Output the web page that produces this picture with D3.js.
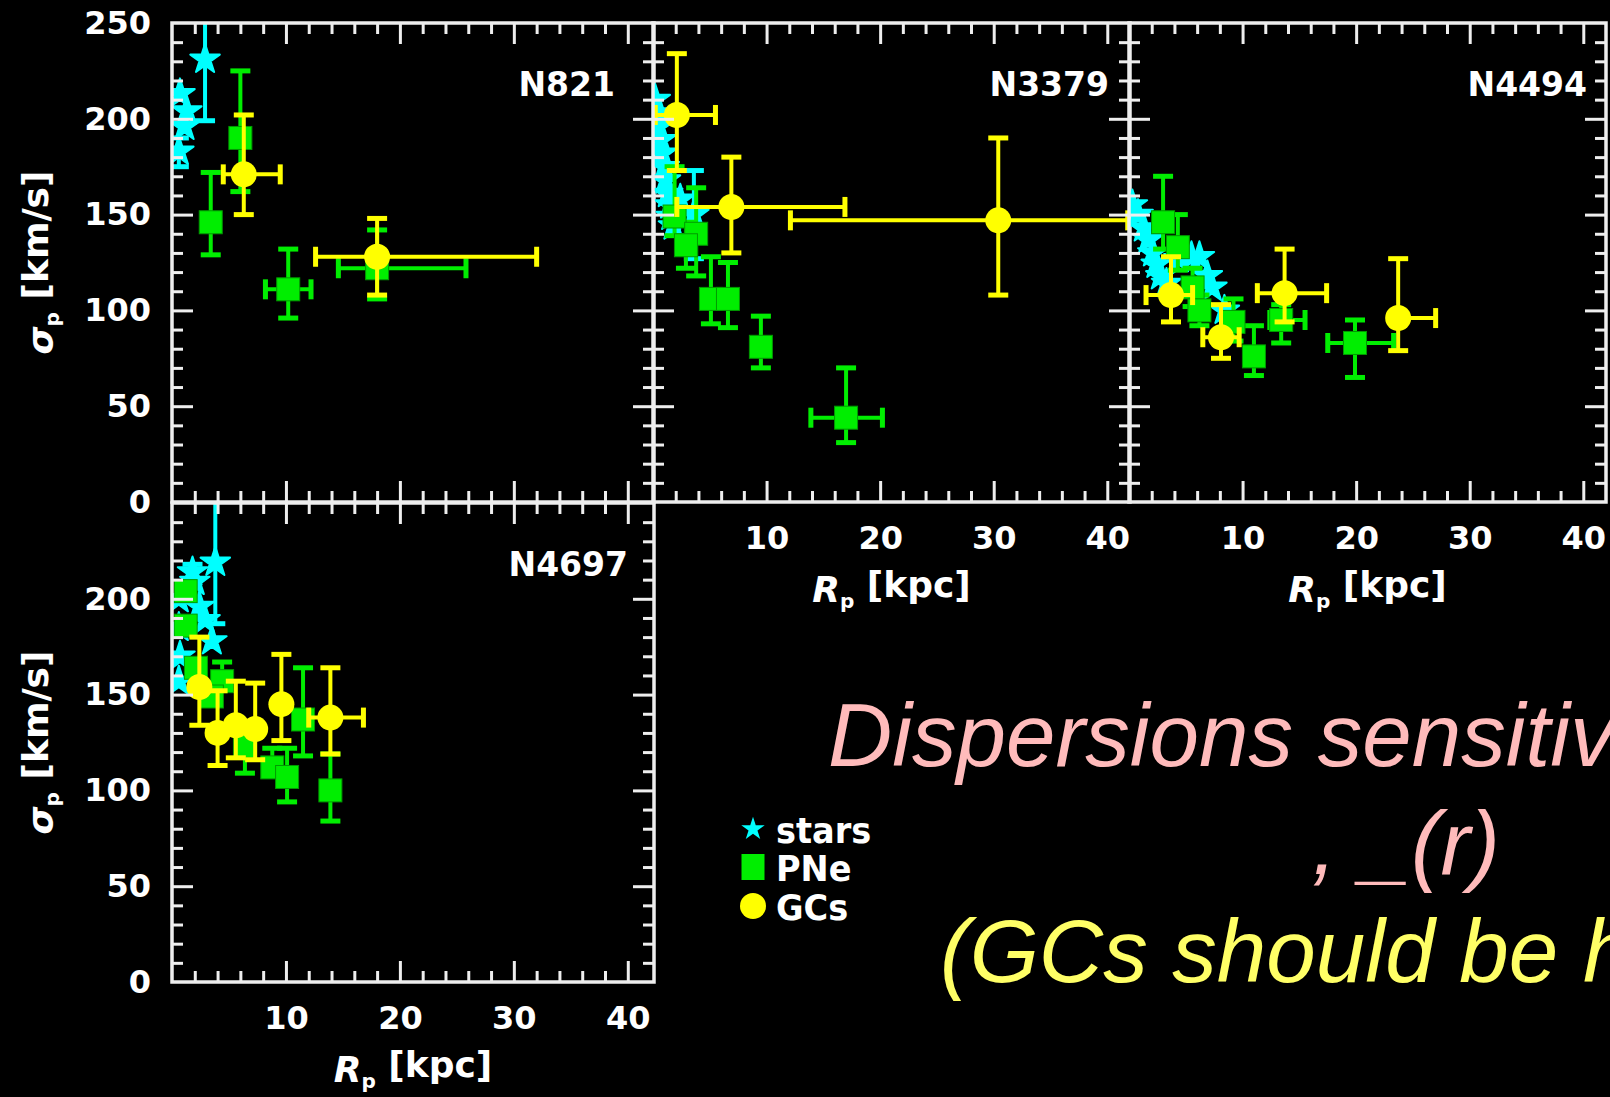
<!DOCTYPE html>
<html>
<head>
<meta charset="utf-8">
<script src="https://cdn.jsdelivr.net/npm/d3@7"></script>
<style>
body{margin:0;background:#000;}
svg{display:block;}
</style>
</head>
<body>
<script>
// rows: [Rp, sigma, sigma-, sigma+, Rp-, Rp+]  (0 = no error bar)
var n821Stars = [[0.7,213,0,0,0,0],[1.3,204,0,0,0,0],[1.1,196,0,0,0,0],[0.6,183,8,7,0,0],[2.9,231,32,30,0,0]];
var n821PNe = [[3.4,146,17,26,0,0],[6.0,190,28,35,0,0],[10.2,111,15,21,2.0,2.0],[18.0,122,16,20,3.4,7.8]];
var n821GCs = [[6.3,171,21,31,1.8,3.2],[18.0,128,20,20,5.4,14.0]];

var n3379Stars = [[0.2,210,0,0,0,0],[0.4,203,0,0,0,0],[0.5,196,0,0,0,0],[0.7,189,0,0,0,0],[0.8,182,0,0,0,0],
	[1.0,175,0,0,0,0],[1.1,168,0,0,0,0],[1.3,161,0,0,0,0],[1.5,155,0,0,0,0],[1.6,149,0,0,0,0],[1.8,144,0,0,0,0],
	[2.4,158,0,0,0,0],[3.6,150,23,23,0,0]];
var n3379PNe = [[1.9,149,10,26,0,0],[3.8,140,22,24,0,0],[2.9,134,12,12,0,0],[5.1,106,13,22,0,0],
	[6.6,106,15,19,0,0],[9.5,81,11,16,0,0],[17.0,44,13,26,3.1,3.2]];
var n3379GCs = [[2.1,202,29,32,1.9,3.4],[6.9,154,24,26,4.8,10.0],[30.4,147,39,43,18.3,11.4]];

var n4494Stars = [[0.3,155,0,0,0,0],[0.8,150,0,0,0,0],[1.3,143,0,0,0,0],[1.7,137,0,0,0,0],[2.1,130,0,0,0,0],
	[2.4,124,0,0,0,0],[2.8,118,0,0,0,0],[3.3,114,0,0,0,0],[4.4,127,0,0,0,0],[5.5,128,0,0,0,0],
	[6.2,128,0,0,0,0],[6.9,118,0,0,0,0],[7.3,112,0,0,0,0],[8.4,100,0,0,0,0]];
var n4494PNe = [[3.0,146,14,24,0,0],[4.3,133,12,17,0,0],[5.6,112,10,10,0,0],[6.2,100,8,8,0,0],
	[9.2,94,10,12,0,0],[11.0,76,10,16,0,0],[13.4,95,12,8,1.0,2.1],[19.9,83,18,12,2.4,3.4]];
var n4494GCs = [[3.7,108,14,20,2.2,1.9],[8.1,86,11,17,1.6,1.6],[13.7,109,15,23,2.4,3.7],[23.7,96,17,31,0.5,3.3]];

var n4697Stars = [[0.6,200,0,0,0,0],[0.6,185,0,0,0,0],[0.7,170,0,0,0,0],[0.6,157,0,0,0,0],[1.8,214,4,4,0,0],
	[2.0,209,0,0,0,0],[2.4,196,0,0,0,0],[2.9,189,0,0,0,0],[3.5,178,0,0,0,0],[3.8,219,32,40,0,0]];
var n4697PNe = [[1.2,204,0,0,0,0],[1.2,186,0,0,0,0],[2.1,164,0,0,0,0],[4.4,157,0,10,0,0],[3.5,149,0,0,0,0],
	[6.4,123,14,0,0,0],[8.8,112,0,10,0,0],[10.1,107,13,15,0,0],[11.5,137,19,27,0,0],[13.9,100,16,19,0,0]];
var n4697GCs = [[2.4,154,20,26,0,0],[4.0,130,17,22,0,0],[5.6,134,17,23,0,0],[7.3,132,16,24,0,0],
	[9.6,145,19,26,0,0],[13.9,138,19,26,1.9,2.9]];

var xTickLabels = [10,20,30,40];
var yTickLabels = [0,50,100,150,200,250];
var yTickLabelsLow = [0,50,100,150,200];
var legendNames = ["stars","PNe","GCs"];
var textLines = ["Dispersions sensitive", ", _(r)", "(GCs should be hotter)"];

var width = 1610, height = 1097, panelH = 479;
var cyan = "#00ffff", green = "#00ee00", yellow = "#ffff00", frameCol = "#eeeeee";

var svg = d3.select("body").append("svg")
	.attr("width", width)
	.attr("height", height)
	.style("background", "#000");

var panels = [
	{name:"N821", stars:n821Stars, pne:n821PNe, gcs:n821GCs, left:172, top:23, w:482, xmax:42.3, xLab:false, yLab:yTickLabels, nameRight:39},
	{name:"N3379", stars:n3379Stars, pne:n3379PNe, gcs:n3379GCs, left:653, top:23, w:477, xmax:42, xLab:true, yLab:null, nameRight:21},
	{name:"N4494", stars:n4494Stars, pne:n4494PNe, gcs:n4494GCs, left:1129, top:23, w:477, xmax:42, xLab:true, yLab:null, nameRight:19},
	{name:"N4697", stars:n4697Stars, pne:n4697PNe, gcs:n4697GCs, left:172, top:503, w:482, xmax:42.3, xLab:true, yLab:yTickLabelsLow, nameRight:26}
];

var starSym = d3.symbol().type(d3.symbolStar).size(270);

panels.forEach(function(p, i){
	var x = d3.scaleLinear().domain([0, p.xmax]).range([0, p.w]);
	var y = d3.scaleLinear().domain([0, 250]).range([panelH, 0]);
	var g = svg.append("g").attr("transform", "translate(" + p.left + "," + p.top + ")");

	svg.append("clipPath").attr("id", "clip" + i)
		.append("rect").attr("width", p.w).attr("height", panelH);

	var plot = g.append("g").attr("clip-path", "url(#clip" + i + ")");
	drawSeries(plot, p.stars, x, y, cyan, "star");
	drawSeries(plot, p.pne, x, y, green, "square");
	drawSeries(plot, p.gcs, x, y, yellow, "circle");

	// ticks on all four sides, pointing in
	var xMajor = [10,20,30,40];
	var xMinor = d3.range(2, 42, 2).filter(function(v){ return v % 10 !== 0; });
	var yMajor = [50,100,150,200];
	var yMinor = d3.range(10, 250, 10).filter(function(v){ return v % 50 !== 0; });
	tickSet(g, d3.axisBottom(x), xMajor, 21, "translate(0," + panelH + ")");
	tickSet(g, d3.axisBottom(x), xMinor, 11, "translate(0," + panelH + ")");
	tickSet(g, d3.axisTop(x), xMajor, 21, null);
	tickSet(g, d3.axisTop(x), xMinor, 11, null);
	tickSet(g, d3.axisLeft(y), yMajor, 21, null);
	tickSet(g, d3.axisLeft(y), yMinor, 11, null);
	tickSet(g, d3.axisRight(y), yMajor, 21, "translate(" + p.w + ",0)");
	tickSet(g, d3.axisRight(y), yMinor, 11, "translate(" + p.w + ",0)");

	g.append("rect")
		.attr("width", p.w).attr("height", panelH)
		.attr("fill", "none").attr("stroke", frameCol).attr("stroke-width", 3.5);

	if(p.yLab){
		var ya = g.append("g").call(d3.axisLeft(y).tickValues(p.yLab).tickSize(0).tickPadding(21));
		styleLabels(ya);
		var yt = g.append("text")
			.attr("transform", "translate(" + (53 - p.left) + "," + (panelH / 2) + ") rotate(-90)")
			.attr("text-anchor", "middle")
			.attr("fill", "#fff")
			.style("font", "bold 36px 'DejaVu Sans'");
		yt.append("tspan").style("font-style", "italic").text("σ");
		yt.append("tspan").attr("dy", "0.3em").style("font-size", "20px").text("p");
		yt.append("tspan").attr("dy", "-0.3em").text(" [km/s]");
	}
	if(p.xLab){
		var xa = g.append("g").attr("transform", "translate(0," + panelH + ")")
			.call(d3.axisBottom(x).tickValues(xTickLabels).tickSize(0).tickPadding(24));
		styleLabels(xa);
		var xt = g.append("text")
			.attr("x", p.w / 2).attr("y", panelH + 100)
			.attr("text-anchor", "middle")
			.attr("fill", "#fff")
			.style("font", "bold 36px 'DejaVu Sans'");
		xt.append("tspan").style("font-style", "italic").text("R");
		xt.append("tspan").attr("dy", "0.3em").style("font-size", "20px").text("p");
		xt.append("tspan").attr("dy", "-0.3em").text(" [kpc]");
	}

	g.append("text")
		.attr("x", p.w - p.nameRight).attr("y", 73)
		.attr("text-anchor", "end")
		.attr("fill", "#fff")
		.style("font", "bold 33px 'DejaVu Sans'")
		.text(p.name);
});

function tickSet(g, axis, values, size, transform){
	var t = g.append("g");
	if(transform) t.attr("transform", transform);
	t.call(axis.tickValues(values).tickSize(-size).tickFormat(""));
	t.select(".domain").remove();
	t.selectAll("line").attr("stroke", frameCol).attr("stroke-width", 3);
}

function styleLabels(sel){
	sel.select(".domain").remove();
	sel.selectAll("text")
		.attr("fill", "#fff")
		.style("font", "bold 32px 'DejaVu Sans'");
}

function drawSeries(plot, rows, x, y, color, shape){
	var s = plot.append("g");
	var cap = 10;
	rows.forEach(function(d){
		var cx = x(d[0]), cy = y(d[1]);
		if(d[2] || d[3]){
			var y1 = y(d[1] - d[2]), y2 = y(d[1] + d[3]);
			s.append("line").attr("x1", cx).attr("x2", cx).attr("y1", y1).attr("y2", y2)
				.attr("stroke", color).attr("stroke-width", 4);
			if(d[2]) s.append("line").attr("x1", cx - cap).attr("x2", cx + cap).attr("y1", y1).attr("y2", y1)
				.attr("stroke", color).attr("stroke-width", 5);
			if(d[3]) s.append("line").attr("x1", cx - cap).attr("x2", cx + cap).attr("y1", y2).attr("y2", y2)
				.attr("stroke", color).attr("stroke-width", 5);
		}
		if(d[4] || d[5]){
			var x1 = x(d[0] - d[4]), x2 = x(d[0] + d[5]);
			s.append("line").attr("x1", x1).attr("x2", x2).attr("y1", cy).attr("y2", cy)
				.attr("stroke", color).attr("stroke-width", 4);
			if(d[4]) s.append("line").attr("x1", x1).attr("x2", x1).attr("y1", cy - cap).attr("y2", cy + cap)
				.attr("stroke", color).attr("stroke-width", 5);
			if(d[5]) s.append("line").attr("x1", x2).attr("x2", x2).attr("y1", cy - cap).attr("y2", cy + cap)
				.attr("stroke", color).attr("stroke-width", 5);
		}
	});
	rows.forEach(function(d){
		marker(s, shape, x(d[0]), y(d[1]), color);
	});
}

function marker(s, shape, cx, cy, color){
	if(shape === "star"){
		s.append("path").attr("d", starSym).attr("transform", "translate(" + cx + "," + cy + ")")
			.attr("fill", color).attr("stroke", color).attr("stroke-width", 2).attr("stroke-linejoin", "round");
	} else if(shape === "square"){
		s.append("rect").attr("x", cx - 11.5).attr("y", cy - 11.5).attr("width", 23).attr("height", 23)
			.attr("fill", color).attr("stroke", "#009a00").attr("stroke-width", 1);
	} else {
		s.append("circle").attr("cx", cx).attr("cy", cy).attr("r", 13)
			.attr("fill", color);
	}
}

// legend
var legend = svg.append("g").attr("transform", "translate(753,0)");
var legShapes = ["star", "square", "circle"];
var legColors = [cyan, green, yellow];
var legY = [829, 867, 906];
legendNames.forEach(function(n, i){
	if(legShapes[i] === "star"){
		legend.append("path").attr("d", d3.symbol().type(d3.symbolStar).size(170))
			.attr("transform", "translate(0," + legY[i] + ")").attr("fill", cyan);
	} else if(legShapes[i] === "square"){
		legend.append("rect").attr("x", -11.5).attr("y", legY[i] - 13).attr("width", 23).attr("height", 26)
			.attr("fill", green);
	} else {
		legend.append("ellipse").attr("cx", 0).attr("cy", legY[i]).attr("rx", 13).attr("ry", 13)
			.attr("fill", legColors[i]);
	}
	legend.append("text")
		.attr("transform", "translate(23," + (legY[i] + 14) + ") scale(1.05,1.1)")
		.attr("fill", "#fff")
		.style("font", "bold 32px 'DejaVu Sans'")
		.text(n);
});

// slide text
var slideFont = "italic 89px 'Liberation Sans', Arial, sans-serif";
svg.append("text").attr("x", 828).attr("y", 766).attr("fill", "#ffbbbb")
	.style("font", slideFont).text(textLines[0]);
svg.append("text").attr("x", 1312).attr("y", 874).attr("fill", "#ffbbbb")
	.style("font", slideFont).text(textLines[1]);
svg.append("text").attr("x", 940).attr("y", 982).attr("fill", "#ffff66")
	.style("font", slideFont).text(textLines[2]);
</script>
</body>
</html>
